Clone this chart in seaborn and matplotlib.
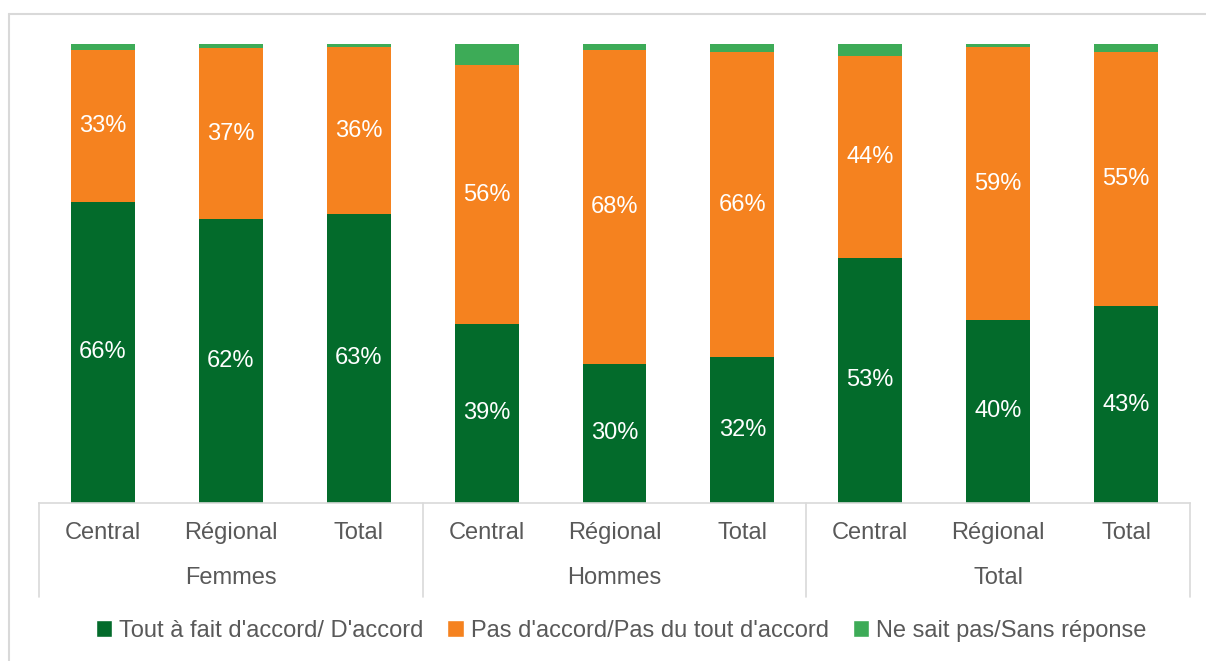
import matplotlib
matplotlib.use("Agg")
import matplotlib.pyplot as plt
from matplotlib.patches import Patch
import pandas as pd
import seaborn as sns

## Donnees
groups = ["Femmes", "Hommes", "Total"]
subgroups = ["Central", "Régional", "Total"]
series_names = [
    "Tout à fait d'accord/ D'accord",
    "Pas d'accord/Pas du tout d'accord",
    "Ne sait pas/Sans réponse",
]
accord = [65.6, 61.8, 63.0, 39.0, 30.3, 31.8, 53.4, 39.9, 42.9]
pas_accord = [33.1, 37.4, 36.3, 56.4, 68.4, 66.4, 44.0, 59.4, 55.4]
ne_sait_pas = [1.3, 0.8, 0.7, 4.6, 1.3, 1.8, 2.6, 0.7, 1.7]
colors = ["#036B2B", "#F5821F", "#3DAB57"]

keys = ["%s|%s" % (g, s) for g in groups for s in subgroups]
df = pd.DataFrame({
    "cle": keys,
    series_names[0]: accord,
    series_names[1]: pas_accord,
    series_names[2]: ne_sait_pas,
})

sns.set_theme(style="white")
plt.rcParams["font.family"] = ["Liberation Sans", "DejaVu Sans"]
grey = "#595959"
fs = 17

fig = plt.figure(figsize=(12.06, 6.61), dpi=100)
ax = fig.add_axes([39 / 1206, 158 / 661, 1151 / 1206, 459 / 661])

## Barres empilees
bottom = [0.0] * len(df)
for name, col in zip(series_names, colors):
    sns.barplot(data=df, x="cle", y=name, order=keys, bottom=bottom,
                color=col, width=0.5, saturation=1, ax=ax, linewidth=0)
    if name != series_names[2]:
        for i, v in enumerate(df[name]):
            ax.text(i, bottom[i] + v / 2, "%d%%" % round(v), ha="center",
                    va="center", color="white", fontsize=fs)
    bottom = [b + v for b, v in zip(bottom, df[name])]

ax.set_xlim(-0.5, 8.5)
ax.set_ylim(0, 100)
ax.set_yticks([])
ax.set_xlabel("")
ax.set_ylabel("")
for s in ["top", "right", "left"]:
    ax.spines[s].set_visible(False)
ax.spines["bottom"].set_color("#D9D9D9")
ax.spines["bottom"].set_linewidth(1.2)

ax.set_xticks(range(len(keys)))
ax.set_xticklabels([k.split("|")[1] for k in keys], fontsize=fs, color=grey)
ax.tick_params(axis="x", length=0, pad=14)

## Categories de groupe
xt = ax.get_xaxis_transform()
for j, g in enumerate(groups):
    ax.text(3 * j + 1, -0.163, g, transform=xt, ha="center", va="center",
            fontsize=fs, color=grey)
for xs in [-0.5, 2.5, 5.5, 8.5]:
    ax.plot([xs, xs], [0, -0.205], transform=xt, color="#D9D9D9",
            lw=1.2, clip_on=False)

## Legende
handles = [Patch(facecolor=c, label=n) for n, c in zip(series_names, colors)]
fig.legend(handles=handles, loc="center", bbox_to_anchor=(0.515, 1 - 631 / 661),
           ncol=3, frameon=False, fontsize=fs, handlelength=0.7,
           handleheight=0.7, handletextpad=0.3, columnspacing=1.0,
           labelcolor=grey)

## Cadre exterieur
fig.add_artist(plt.Line2D([9 / 1206, 9 / 1206], [0, 1 - 14 / 661],
                          transform=fig.transFigure, color="#D9D9D9", lw=1.5))
fig.add_artist(plt.Line2D([9 / 1206, 1], [1 - 14 / 661, 1 - 14 / 661],
                          transform=fig.transFigure, color="#D9D9D9", lw=1.5))

fig.savefig("out.png", dpi=100)
